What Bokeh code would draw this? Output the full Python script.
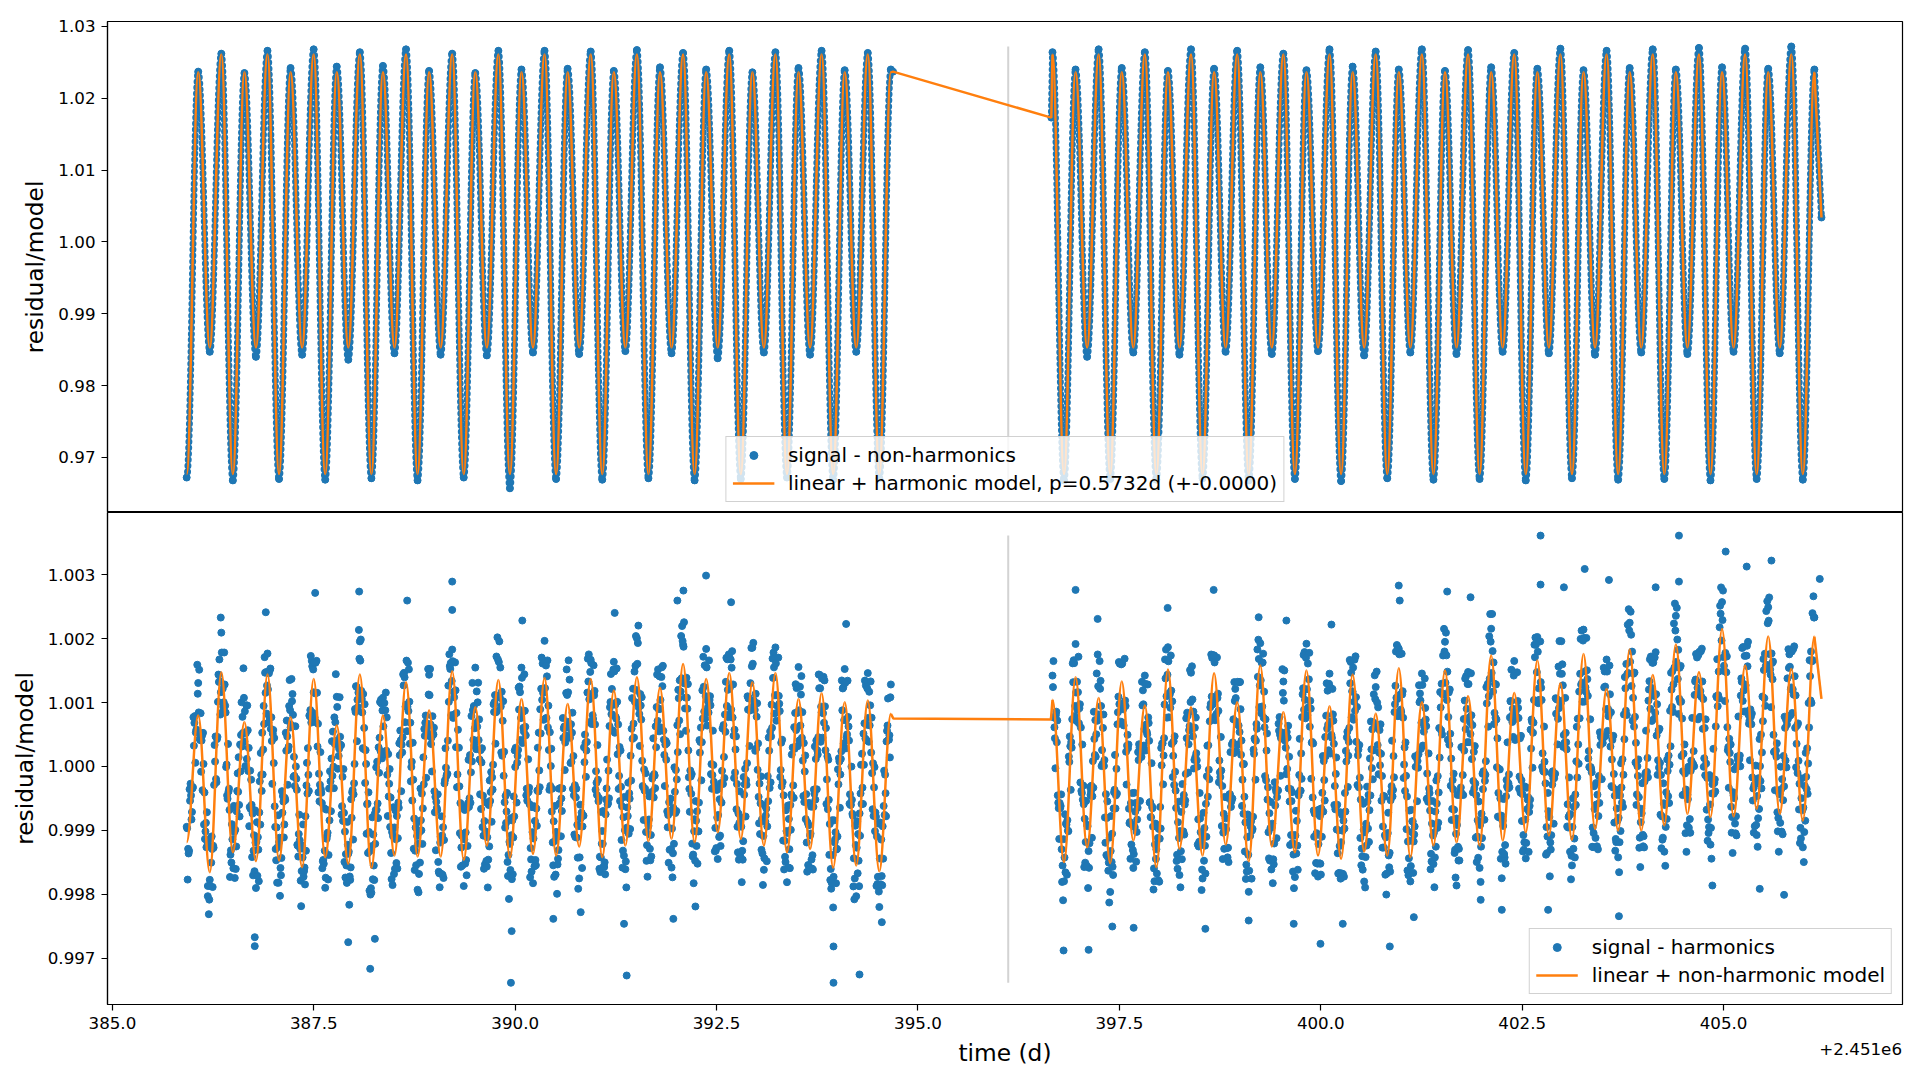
import numpy as np
from bokeh.plotting import figure
from bokeh.layouts import column
from bokeh.models import Range1d, Legend, LegendItem, Div, FixedTicker, NumeralTickFormatter
from bokeh.embed import file_html
from bokeh.resources import INLINE

color_signal = '#1f77b4'
color_model = '#ff7f0e'
color_gap = '#d3d3d3'
font = 'DejaVu Sans'

# ------------------------ data (time in d, minus 2451000)
period_d = 0.5732
first_min_t = 385.922          # first deep minimum, extrema every period/4 after it
gap_mark_t = 396.12
time_offset_text = '+2.451e6'
x_ticks = [385.0, 387.5, 390.0, 392.5, 395.0, 397.5, 400.0, 402.5, 405.0]

# top panel, signal - non-harmonics at the extrema (deep min, max, shallow min, max, ...)
top_sig_1 = [0.9672, 1.0237, 0.9847, 1.0262, 0.9668, 1.0235, 0.9840, 1.0266,
             0.9670, 1.0242, 0.9843, 1.0268, 0.9669, 1.0244, 0.9836, 1.0264,
             0.9671, 1.0245, 0.9845, 1.0268, 0.9668, 1.0238, 0.9843, 1.0262,
             0.9672, 1.0235, 0.9842, 1.0266, 0.9657, 1.0240, 0.9846, 1.0266,
             0.9670, 1.0241, 0.9844, 1.0265, 0.9669, 1.0238, 0.9848, 1.0267,
             0.9671, 1.0243, 0.9845, 1.0263, 0.9668, 1.0240, 0.9838, 1.0266,
             0.9670, 1.0236, 0.9846, 1.0264, 0.9672, 1.0242, 0.9843, 1.0266,
             0.9669, 1.0239, 0.9847, 1.0263, 0.9671, 1.0240]                  # n = 0..61
top_sig_2 = [1.0264,
             0.9668, 1.0240, 0.9840, 1.0268, 0.9670, 1.0242, 0.9846, 1.0264,
             0.9669, 1.0238, 0.9843, 1.0268, 0.9671, 1.0241, 0.9847, 1.0266,
             0.9668, 1.0243, 0.9844, 1.0262, 0.9670, 1.0239, 0.9848, 1.0268,
             0.9667, 1.0244, 0.9842, 1.0265, 0.9671, 1.0240, 0.9846, 1.0268,
             0.9669, 1.0238, 0.9844, 1.0267, 0.9670, 1.0243, 0.9847, 1.0263,
             0.9668, 1.0241, 0.9845, 1.0269, 0.9671, 1.0239, 0.9843, 1.0266,
             0.9669, 1.0242, 0.9846, 1.0268, 0.9670, 1.0240, 0.9844, 1.0270,
             0.9668, 1.0243, 0.9847, 1.0269, 0.9670, 1.0241, 0.9845, 1.0272,
             0.9669, 1.0240]                                                   # n = 75..141
top_model_cycle = [0.9677, 1.0236, 0.9853, 1.0261]
top_end_1 = [394.690, 1.0237]
top_start_2 = [396.655, 1.0173]
top_end_2 = [406.215, 1.0034]

# bottom panel, linear + non-harmonic model at its extrema (ppm from 1)
bot_model_1_ppm = [-1185, 797, -1655, 1476, -1342, 693, -1483, 1439,
                   -1474, 771, -1577, 1371, -1420, 641, -1525, 1439,
                   -1587, 797, -1394, 1319, -1410, 876, -1410, 1491,
                   -1462, 928, -1238, 1356, -1431, 1058, -1368, 1387,
                   -1394, 980, -1253, 1371, -1420, 1189, -1238, 1397,
                   -1170, 1231, -1133, 1606, -1185, 1371, -1029, 1465,
                   -1133, 1319, -1238, 1465, -1342, 1058, -1290, 1147,
                   -1587, 1006, -1551, 1032, -1640, 824]                        # n = 0..61
bot_model_2_ppm = [1043, -1498, 1398, -1264, 1074, -1514, 1330, -1159,
                   954, -1577, 1518, -1290, 928, -1394, 1460, -1222,
                   1006, -1483, 1580, -1253, 850, -1342, 1502, -1394,
                   944, -1446, 1439, -1331, 824, -1394, 1538, -1420,
                   1006, -1238, 1502, -1185, 1100, -1238, 1737, -1159,
                   1152, -1029, 1658, -1081, 1304, -1149, 1763, -977,
                   1215, -1003, 1831, -1003, 1434, -924, 1909, -742,
                   1476, -794, 2154, -784, 1580, -664, 2034, -742,
                   1528, -846, 2034]                                            # n = 75..141
bot_end_1 = [394.695, 750]
bot_start_2 = [396.650, 735]
bot_end_2 = [406.215, 1058]

# bottom panel, signal - harmonics (ppm from 1): four interleaved sample sets, six per quarter period
bot_sig_1_ppm = [-945, -1362, -270, -344, 682, 574, 1307, 413, 484, -909, -882, -1871,
                 -1775, -1095, -1272, 470, 463, 1676, 2096, 937, 952, -453, -348, -1313,
                 -962, -1746, -703, 145, -76, 777, 393, 957, -71, -65, -1419, -1077,
                 -1903, -1107, -233, -382, 949, 1153, 1769, 774, 771, 572, -946, -1819,
                 -1184, -1704, -463, -492, 720, 311, 611, 1134, -146, -193, -1410, -1290,
                 -1237, -1639, -1320, 287, 784, 1653, 1161, 1624, 313, -545, -413, -1463,
                 -1900, -1082, -345, -700, 546, 353, 1091, 166, 340, -162, -1494, -1550,
                 -1365, -1776, -404, -263, 1258, 930, 1959, 1056, 273, 256, -580, -1944,
                 -1977, -1067, -1211, 75, -99, 1047, 1077, 220, 769, -469, -486, -1857,
                 -954, -1512, -566, 562, 221, 1467, 969, 1626, 357, 74, -1288, -957,
                 -1930, -1027, -999, 143, 685, 483, 1436, 353, 515, -717, -649, -1647,
                 -1100, -1696, -265, -149, 1266, 1527, 1831, 1083, 303, 575, -1044, -1084,
                 -1872, -1032, -1245, -497, 791, 418, 1548, 623, 737, -665, -457, -1533,
                 -1568, -604, -400, -361, 1008, 1722, 1106, 1549, 169, 232, -884, -1714,
                 -1211, -1764, -469, 293, 166, 1251, 1548, 605, 622, -535, -332, -1455,
                 -1828, -853, -929, 530, 518, 1612, 1967, 761, 952, -304, -349, -1728,
                 -1024, -1445, -341, -697, 597, 491, 700, 1360, 72, 163, -1105, -913,
                 -1753, -797, -767, 499, 385, 1755, 1671, 804, 1183, -255, -543, -1653,
                 -1010, -1575, -518, -576, 927, 1214, 1639, 776, 192, 305, -1152, -795,
                 -1608, -641, -419, -220, 1218, 1010, 2007, 925, 955, -306, -378, -1478,
                 -930, -1469, -190, -119, 301, 1520, 901, 1553, 420, 399, -952, -1305,
                 -1583, -649, -728, 647, 721, 2043, 1906, 909, 1078, -169, -157, -1408,
                 -825, -1244, -1016, 383, 1192, 860, 1841, 930, 1101, -349, -239, -1318,
                 -1449, -512, -566, 648, 542, 1678, 1715, 891, 1285, -94, -274, -1459,
                 -803, -1459, -280, -287, 1066, 1305, 1859, 978, 280, 361, -1058, -827,
                 -1618, -767, -152, -336, 969, 1784, 1865, 947, 983, 372, -1160, -1414,
                 -1812, -821, -992, 298, 278, 1227, 1558, 641, 851, -556, -433, -1543,
                 -1080, -1597, -361, 118, 188, 1434, 847, 1404, 254, 160, -1384, -1914,
                 -2207, -1143, -1289, 129, 118, 1222, 1526, 455, 627, -603, -742, -2080,
                 -2031, -1058, -1085, 200, 26, 1269, 1462, 643, 764, -774, -722, -1841,
                 -2200, -1145, -1444, -128, 558, 419, 1284]
bot_sig_1b_ppm = [-1771, -356, -830, 772, 58, 1593, 1515, -81, 527, -1135, -717, -2313,
                  -1122, -1888, 337, -246, 1439, 813, 848, 1785, -9, 353, -1730, -904,
                  -617, -1605, -107, -782, 1006, 1538, 6, 955, -934, -206, -1705, -686,
                  -873, -1796, 211, -125, 1712, 829, 689, 1534, -272, 447, -1469, -764,
                  -2026, -386, -1111, 528, -287, 1353, 1371, -162, 630, -1226, -754, -2187,
                  -907, -1847, 57, -383, 1731, 841, 764, 1654, -404, 225, -1593, -653,
                  -675, -1769, -75, 396, -340, 1446, -36, 1085, -753, -41, -1739, -868,
                  -2165, -512, -1145, 899, 396, 2139, 1988, 287, 976, -1054, -405, -2006,
                  -796, -1779, -13, -808, 1009, 126, 190, 1157, -776, -41, -1764, -637,
                  -688, -1598, 363, -387, 1443, 693, 553, 1521, -233, 372, -1622, -884,
                  -1971, -346, -1212, 588, -178, 1527, 1527, -78, 608, -1312, -436, -1891,
                  -781, -1746, 286, -115, 1757, 802, 761, 1630, -325, 294, -1570, -632,
                  -681, -1703, 105, -569, 1309, 328, 271, 1312, -436, 286, -1602, -561,
                  -1894, -219, -866, 974, 357, 2022, 1959, 219, 1022, -957, -414, -2074,
                  -809, -1688, 252, -565, 1235, 416, 367, 1444, -452, 112, -1734, -637,
                  -621, -1546, 294, -325, 1705, 730, 750, 1661, -365, 278, -1548, -617,
                  -1994, -347, -1093, 759, -57, 1520, 1662, 54, 842, -1065, -347, -1915,
                  -598, -1590, 300, -162, 1688, 696, 664, 1584, -364, 335, -1603, -713,
                  -696, -1689, 108, -499, 1448, 565, 528, 1535, -351, 252, -1584, -477,
                  -1893, -253, -980, 1070, 452, 2042, 1933, 322, 1085, -838, -105, -1726,
                  -469, -1409, 441, -340, 1440, 550, 611, 1576, -306, 364, -1508, -503,
                  -1736, -13, -697, 1200, 506, 2199, 2259, 559, 1291, -710, -118, -1828,
                  -542, -1522, 413, -217, 1718, 748, 640, 1661, -119, 561, -1329, -368,
                  -347, -1245, 596, -180, 1701, 773, 821, 1806, -179, 471, -1344, -389,
                  -1811, -165, -783, 1099, 321, 1857, 1936, 246, 990, -889, -155, -1855,
                  -612, -1483, 455, -248, 1690, 829, 717, 1705, -166, 419, -1612, -684,
                  -611, -1592, 188, -492, 1288, 317, 408, 1415, -463, 171, -1647, -570,
                  -629, -1614, 314, -357, 1441, 386, 451, 1348, -587, 107, -1778, -841,
                  -843, -1828, -45, -646, 1347, 362, 283, 1343, -583, -2, -1878, -927,
                  -857, -1874, 27, -586, 1345, 408, 387, 1332, -669, -9, -1870, -895,
                  -878, -1860, -66, -780, 1064, 142]
bot_sig_1c_ppm = [-967, -1321, -453, -325, 789, 572, 847, 834, -371, -408, -1264, -1232,
                  -1872, -1293, -288, -196, 1012, 1337, 1785, 1006, 845, -506, -680, -1505,
                  -1594, -992, -383, -602, 494, 526, 864, 119, 291, -666, -737, -1640,
                  -1181, -1302, -910, 528, 666, 1478, 1207, 1509, 399, 53, -1293, -1263,
                  -1115, -1433, -550, -526, 471, 946, 652, 809, -305, -366, -1057, -1788,
                  -1425, -1583, -296, -131, 883, 1569, 1630, 694, 669, -286, -573, -1524,
                  -1742, -1038, -843, 124, -3, 693, 932, 278, 332, -853, -1020, -1823,
                  -1333, -1580, -369, 40, 1248, 1156, 1657, 847, 604, 39, -1354, -1322,
                  -1247, -1551, -680, -580, 450, 986, 628, 881, -130, -271, -1355, -1091,
                  -1603, -775, -646, 409, 457, 1396, 1658, 868, 686, -533, -815, -1546,
                  -1211, -1505, -424, -278, 798, 669, 1117, 451, 500, -476, -682, -1673,
                  -1678, -951, -214, -121, 1012, 1621, 1649, 817, 839, -317, -573, -1550,
                  -1142, -1466, -573, 178, 80, 947, 679, 1005, 109, 64, -1083, -1016,
                  -1108, -1251, -86, 28, 1118, 867, 1635, 939, 715, -559, -705, -1385,
                  -1621, -845, -782, 255, 260, 1163, 1388, 548, 488, -413, -592, -1646,
                  -1127, -1464, -377, -61, 1217, 1152, 1226, 1411, 258, 6, -1189, -1168,
                  -1105, -1309, -340, -343, 625, 1150, 1161, 450, 530, -452, -485, -1428,
                  -1423, -723, -772, 370, 1157, 1051, 1620, 744, 659, -446, -493, -1424,
                  -1210, -1501, -344, -66, 1008, 810, 1489, 749, 659, -542, -622, -1396,
                  -1487, -777, -504, 591, 671, 1577, 1607, 823, 734, -323, -347, -1232,
                  -830, -1073, -148, -143, 930, 900, 1042, 1258, 181, 105, -760, -693,
                  -972, -1211, -57, 225, 1349, 1382, 1875, 1079, 904, -351, -428, -1379,
                  -1475, -702, -565, 609, 750, 1584, 1551, 844, 959, -135, -299, -1278,
                  -759, -1082, -68, 150, 1326, 1200, 1225, 1547, 482, 267, -944, -884,
                  -943, -1170, -35, 52, 1078, 916, 1609, 886, 779, -476, -577, -1361,
                  -1437, -660, -543, 549, 605, 1552, 1614, 846, 868, -311, -452, -1495,
                  -1042, -1295, -440, -296, 838, 837, 879, 1126, 92, -79, -1190, -921,
                  -1050, -1389, -427, 407, 459, 1224, 1376, 685, 602, -668, -901, -1823,
                  -1727, -1030, -1096, 78, 238, 1237, 1306, 503, 406, -599, -770, -1754,
                  -1271, -1475, -423, -332, 676, 654, 761, 957, -104, -328, -786, -1728,
                  -1440, -1716, -619, -418, 641, 490]
bot_sig_1d_ppm = [-1290, -537, -713, 325, 533, 1139, 434, 406, 40, -1017, -1182, -2085,
                  -1506, -1241, 77, 429, 1324, 1163, 1219, 1284, 30, -391, -1382, -1141,
                  -1025, -1253, -397, 344, 313, 1075, 520, 567, -634, -601, -1319, -1194,
                  -1712, -720, -132, 266, 1468, 1267, 1458, 588, 512, -624, -954, -1822,
                  -1589, -724, -907, 247, 260, 882, 1022, 151, 0, -1241, -1155, -1638,
                  -1725, -779, -425, 800, 687, 1519, 1145, 1154, -113, -358, -1483, -1319,
                  -1132, -1386, -233, -146, 769, 403, 369, 466, -621, -726, -1372, -1226,
                  -1722, -804, -436, 853, 1044, 1687, 1184, 1136, -257, -592, -1025, -1905,
                  -1766, -740, -680, 300, 241, 877, 994, 248, 194, -947, -1028, -1685,
                  -1141, -1122, 176, 341, 1270, 938, 935, 1014, -8, -207, -1319, -1089,
                  -1683, -842, -656, 480, 561, 1127, 659, 788, -388, -554, -1495, -1191,
                  -1080, -1151, -18, 405, 1572, 1339, 1169, 1192, -124, -310, -1268, -1090,
                  -1521, -654, -632, -91, 882, 598, 1176, 413, 256, -949, -855, -1479,
                  -1459, -540, -170, 855, 849, 1676, 1080, 1170, -146, -460, -1494, -1180,
                  -1076, -1113, -8, 59, 892, 758, 856, 872, -347, -398, -1278, -1028,
                  -1563, -658, -390, 896, 1043, 1626, 1581, 612, 537, -705, -858, -1693,
                  -1534, -579, -501, 446, 375, 1120, 605, 662, -351, -293, -1113, -934,
                  -813, -939, 68, 250, 1331, 1481, 1105, 1114, -73, -208, -1413, -1209,
                  -1561, -749, -595, 633, 820, 1519, 967, 1013, -147, -318, -1318, -998,
                  -958, -1052, 168, 433, 1486, 1196, 999, 1134, 90, -47, -1026, -880,
                  -1289, -399, -486, 629, 714, 1411, 1401, 558, 343, -703, -560, -1294,
                  -1359, -396, -202, 1070, 1174, 1965, 1300, 1389, 252, -63, -1208, -1014,
                  -848, -1014, 217, 381, 1248, 1101, 1030, 1041, 37, 23, -962, -799,
                  -1104, -260, -274, 814, 948, 1755, 1676, 766, 575, -670, -735, -1403,
                  -1320, -442, -216, 891, 876, 1569, 1032, 1138, -53, -268, -1305, -1088,
                  -865, -938, 248, 470, 1387, 1114, 1118, 1105, -56, -245, -1163, -1011,
                  -1581, -602, -478, 616, 571, 1258, 1249, 448, 367, -824, -878, -1591,
                  -1457, -632, -520, 254, 1226, 937, 833, 941, -202, -522, -1605, -1386,
                  -1188, -1299, -279, -125, 879, 726, 729, 775, -436, -521, -1438, -1231,
                  -1673, -735, -587, 514, 436, 1222, 1170, 218, 50, -1014, -1095, -1959,
                  -1846, -937, -758, 393, 420, 1084]
bot_sig_2_ppm = [1423, 613, 858, -568, -653, -1808, -1798, -894, -1004, 470, 294, 1664,
                 1918, 890, 913, -383, -299, -1506, -914, -1587, -390, 85, 180, 1457,
                 814, 1341, 37, 100, -1387, -1631, -1964, -1053, -403, -452, 849, 1609,
                 1630, 643, 948, 496, -887, -1222, -1589, -707, -831, 348, 166, 1192,
                 1424, 544, 681, -792, -654, -1797, -1297, -1780, -633, 360, 444, 1831,
                 1868, 1130, 356, 394, -378, -1602, -1700, -711, -1016, -531, 843, 569,
                 1468, 472, 608, 97, -1253, -1028, -1754, -963, -1101, 333, 927, 1699,
                 1740, 810, 1140, -91, -932, -742, -812, -1423, -435, -549, 739, 1215,
                 696, 1319, 184, 31, -1331, -1646, -1963, -938, -977, 439, 664, 1985,
                 1930, 940, 1172, -216, -325, -1473, -953, -1532, -347, -372, 774, 449,
                 1330, 473, -38, 154, -1074, -1645, -1732, -851, -451, -380, 1131, 1791,
                 1922, 928, 1028, 384, -1100, -1510, -1724, -777, -1100, 85, 160, 1187,
                 1454, 494, 717, -671, -599, -1666, -1186, -1683, -415, 456, 388, 1636,
                 1169, 1673, 387, 264, -1119, -1405, -1801, -897, -972, 126, -25, 1130,
                 1244, 335, 570, -535, -460, -1695, -1064, -1578, -401, -368, 975, 1902,
                 1838, 890, 1179, 299, -981, -1702, -1800, -857, -1064, 143, -20, 1143,
                 1456, 546, 735, -496, -417, -1488, -1528, -704, -963, 602, 567, 1738,
                 1952, 1042, 1160, -301, -213, -1355, -815, -1472, -394, 307, 249, 1417,
                 1480, 693, 116, 231, -1114, -841, -1588, -739, -74, -130, 1253, 2038,
                 2157, 1173, 1293, -11, -35, -1445, -849, -1424, -211, -264, 1024, 697,
                 1652, 746, 917, 442, -854, -1303, -1439, -519, -617, 735, 686, 2018,
                 2028, 1044, 1233, -61, -86, -1357, -781, -1301, -75, -118, 1058, 1564,
                 1024, 1600, 361, 378, -956, -1335, -1549, -634, -601, 747, 755, 2128,
                 2143, 1239, 1368, -7, -42, -1263, -647, -1250, -149, 469, 367, 1488,
                 1675, 786, 311, 416, -879, -1184, -1423, -453, -565, 814, 873, 2221,
                 2251, 1261, 1453, 64, 5, -1273, -663, -1250, -134, -85, 1205, 1721,
                 1134, 1706, 484, 565, -755, -1146, -1334, -404, -466, 873, 931, 2239,
                 2359, 1371, 1546, 164, 201, -1044, -442, -1033, 92, 37, 1332, 1707,
                 1206, 1804, 589, 601, -677, -1042, -1224, -277, -257, 1100, 1117, 2517,
                 2574, 1577, 1719, 255, 210, -1037, -454, -1046, 157, 118, 1379, 1872,
                 1280, 1890, 669, 778, -533, -934, -1074, -183, -229, 1095, 1070, 2433,
                 2494, 1518, 1620, 226, 252, -1016, -432, -1020, 165, 93, 1380, 1756,
                 1238, 1839, 605, 641, -673, -1127, -1266, -303, -356, 994, 1034, 2401,
                 2334]
bot_sig_2b_ppm = [1650, -28, 720, -1135, -437, -2095, -749, -1695, 156, -366, 1615, 789,
                  713, 1719, -250, 344, -1575, -539, -1904, -323, -1117, 857, 153, 1754,
                  1650, 6, 814, -1194, -546, -2130, -776, -1699, 181, -425, 1635, 702,
                  688, 1687, -283, 344, -1446, -417, -413, -1491, 225, -540, 1326, 328,
                  251, 1284, -565, 52, -1927, -894, -924, -1805, 291, -280, 1676, 765,
                  770, 1738, -164, 472, -1480, -552, -1892, -276, -1067, 755, -96, 1510,
                  1569, -31, 767, -1223, -415, -1935, -725, -1677, 325, -199, 1753, 762,
                  724, 1708, -245, 463, -1450, -476, -484, -1497, 225, -501, 1321, 248,
                  344, 1323, -617, 40, -1760, -751, -781, -1756, 263, -206, 1833, 928,
                  832, 1766, -151, 518, -1439, -555, -1827, -246, -1123, 670, -147, 1524,
                  1503, -120, 637, -1229, -402, -1905, -694, -1617, 433, -193, 1747, 754,
                  803, 1779, -192, 360, -1671, -735, -674, -1693, 163, -533, 1303, 254,
                  203, 1215, -603, 141, -1677, -715, -757, -1725, 244, -321, 1668, 770,
                  732, 1725, -289, 337, -1547, -584, -1894, -316, -1181, 705, -201, 1427,
                  1486, -120, 661, -1271, -470, -2006, -724, -1646, 404, -170, 1800, 788,
                  798, 1766, -179, 377, -1628, -690, -679, -1666, 160, -544, 1272, 275,
                  328, 1378, -507, 205, -1610, -540, -1891, -218, -881, 1165, 502, 2155,
                  2096, 420, 1205, -838, -113, -1739, -446, -1471, 303, -448, 1376, 381,
                  380, 1459, -407, 319, -1497, -548, -1807, -114, -834, 1243, 623, 2386,
                  2388, 664, 1283, -785, -46, -1750, -510, -1522, 378, -325, 1515, 463,
                  415, 1474, -347, 480, -1331, -312, -333, -1337, 578, -19, 1906, 1012,
                  991, 1958, -8, 625, -1381, -414, -1720, -113, -896, 1069, 346, 1963,
                  1962, 306, 1074, -939, -171, -1767, -499, -1424, 621, 43, 1998, 1013,
                  1016, 2013, 126, 739, -1257, -310, -260, -1297, 536, -198, 1545, 478,
                  557, 1581, -308, 480, -1319, -365, -1655, 51, -632, 1400, 807, 2463,
                  2423, 717, 1470, -602, 111, -1575, -262, -1267, 561, -170, 1678, 713,
                  744, 1790, -131, 591, -1280, -264, -1556, 110, -573, 1468, 855, 2551,
                  2484, 822, 1575, -448, 345, -1337, -4, -1038, 761, 3, 1762, 738,
                  777, 1845, -6, 738, -1163, -135, -1444, 276, -390, 1680, 1064, 2804,
                  2754, 1025, 1724, -334, 345, -1354, -44, -1079, 783, 3, 1855, 860,
                  862, 1952, 97, 829, -1036, 14, -1258, 430, -343, 1683, 950, 2588,
                  2647, 929, 1644, -372, 363, -1335, -3, -1061, 780, -14, 1837, 799,
                  838, 1881, -13, 675, -1199, -186, -1497, 214, -428, 1665, 994, 2665]
bot_sig_2c_ppm = [1243, 441, 378, -653, -620, -1551, -1426, -910, -1013, 318, 740, 1618,
                  1157, 1164, 975, -416, -592, -1183, -935, -1203, -302, -333, 726, 715,
                  804, 947, 604, -798, -807, -1506, -1323, -1571, -365, -37, 1093, 982,
                  1610, 954, 231, 284, -871, -914, -1371, -571, -646, 295, 150, 974,
                  1294, 503, 402, -796, -941, -1221, -1675, -978, -971, 362, 971, 1100,
                  1647, 919, 1020, -289, -650, -873, -1011, -1452, -445, -117, 793, 634,
                  589, 859, 150, -4, -1179, -1176, -1083, -1240, -152, -51, 981, 971,
                  1629, 824, 871, -165, -306, -1290, -983, -1273, -434, 347, 209, 1071,
                  1326, 540, 407, -740, -875, -1108, -1631, -858, -787, 418, 590, 1684,
                  1349, 1628, 615, 249, -1028, -965, -895, -1206, -393, -375, 498, 530,
                  1031, 294, 453, -548, -542, -1379, -1081, -1239, -133, 205, 1225, 1044,
                  1210, 1364, 907, -484, -736, -1044, -1215, -1523, -412, -213, 796, 655,
                  1244, 448, 355, -116, -1358, -1245, -1674, -849, -705, 544, 604, 1469,
                  1548, 874, 933, -326, -518, -1616, -1032, -1239, -445, -453, 582, 682,
                  615, 926, 19, -149, -1269, -1110, -1042, -1352, -308, 163, 1263, 1056,
                  1756, 853, 764, -383, -470, -1438, -1560, -860, -940, 141, 191, 1034,
                  1277, 615, 632, -552, -689, -893, -1037, -1256, -151, 140, 1295, 1138,
                  1311, 1485, 342, 124, -358, -1303, -916, -1290, -329, -134, 1032, 903,
                  1291, 509, 648, -341, -450, -1429, -916, -1122, -99, 83, 1294, 1374,
                  1465, 1629, 762, 441, -801, -769, -930, -1231, -315, -123, 1019, 904,
                  1473, 777, 758, -410, -432, -1186, -1198, -482, -519, 699, 1041, 1906,
                  1797, 1016, 1042, -80, -264, -1097, -791, -1075, -184, -113, 1047, 913,
                  994, 1271, 376, 268, -788, -746, -947, -1129, 81, 346, 1452, 1312,
                  2012, 1171, 1106, -15, -90, -1043, -1118, -441, -570, 451, 445, 1252,
                  1486, 827, 850, -328, -458, -659, -802, -1011, 113, 428, 1606, 1463,
                  1640, 1799, 625, 370, -148, -1115, -733, -1092, -100, 134, 1336, 1231,
                  1625, 841, 975, -18, -132, -1114, -603, -822, 171, 317, 1494, 1551,
                  1638, 1826, 1010, 751, -433, -361, -513, -824, 73, 241, 1361, 1232,
                  1797, 1092, 1055, -137, -179, -948, -962, -220, -203, 1082, 1486, 2392,
                  2292, 1491, 1476, 304, 72, -792, -495, -781, 106, 172, 1327, 1190,
                  1271, 1569, 717, 662, -344, -269, -463, -666, 500, 710, 1765, 1591,
                  2283, 1438, 1366, 236, 152, -806, -883, -198, -311, 731, 743, 1562,
                  1799, 1123, 1114, -103, -271, -496, -644, -849, 284, 611, 1800, 1664]
bot_sig_2d_ppm = [766, 805, -452, -573, -1296, -1138, -1658, -840, 72, 383, 1320, 946,
                  1327, 676, 610, -521, -820, -1553, -1325, -446, -467, 432, 503, 1255,
                  1216, 257, 8, -434, -1417, -1114, -1496, -657, -657, 661, 977, 1599,
                  895, 1032, 327, -660, -573, -1309, -949, -1025, 100, 251, 956, 586,
                  658, 768, -557, -625, -1596, -1447, -1119, -1130, 19, 172, 1379, 1436,
                  1151, 1188, 167, -82, -1381, -1119, -1326, -525, -595, 443, 350, 1009,
                  1050, 103, 208, -827, -815, -1615, -1476, -585, -473, 708, 1096, 1739,
                  1048, 1074, 93, -63, -1036, -951, -1277, -495, -633, 378, 1027, 667,
                  641, 898, -207, -474, -1537, -1383, -1087, -1003, 199, 404, 1404, 1268,
                  1622, 765, 738, -518, -731, -1612, -1453, -611, -478, 560, 443, 1152,
                  407, 540, -344, -355, -1196, -1073, -1364, -425, -375, 773, 889, 1701,
                  1612, 624, 372, -689, -716, -1522, -1515, -656, -707, 462, 593, 1295,
                  703, 816, -306, -987, -1000, -1756, -1006, -971, 79, 168, 1302, 1177,
                  1014, 1086, 174, -175, -1286, -990, -1419, -549, -684, 268, 252, 1055,
                  1000, 219, 199, -939, -1076, -1675, -1393, -529, -469, 852, 1076, 1856,
                  1126, 1128, 31, -146, -1175, -1158, -1028, -1174, -5, 86, 1006, 686,
                  691, 916, -110, -345, -1367, -1079, -1424, -581, -406, 925, 1130, 1801,
                  1740, 775, 513, -665, -678, -1054, -1258, -447, -421, 744, 585, 1291,
                  771, 802, -227, -266, -1097, -889, -1255, -355, -224, 988, 1101, 1955,
                  1807, 839, 737, -414, -501, -1337, -1371, -466, -344, 768, 794, 1423,
                  859, 1025, -157, -215, -1074, -830, -667, -712, 280, 528, 1711, 1477,
                  1224, 1321, 207, 75, -949, -700, -1190, -284, -184, 827, 747, 1454,
                  1451, 493, 527, -591, -756, -1399, -1288, -438, -172, 1173, 1283, 1971,
                  1489, 1506, 241, -10, -955, -666, -594, -777, 337, 368, 1239, 896,
                  901, 1130, 110, -118, -1135, -844, -1185, -328, -130, 1225, 1449, 2130,
                  2063, 1076, 778, -437, -481, -872, -1070, -235, -173, 1031, 903, 1624,
                  1104, 1132, 98, 55, -781, -575, -946, -69, 28, 1204, 1287, 2128,
                  1988, 1059, 1016, -73, -109, -921, -958, -67, 33, 1121, 1128, 1747,
                  1180, 1331, 129, 47, -830, -595, -422, -426, 628, 943, 2180, 1972,
                  1712, 1778, 616, 434, -631, -402, -894, 9, 104, 1110, 1027, 1731,
                  1735, 810, 894, -171, -293, -915, -811, 5, 220, 1510, 1576, 2243,
                  1759, 1770, 496, 236, -716, -431, -356, -527, 605, 657, 1544, 1209,
                  1208, 1413, 355, 88, -961, -686, -1027, -162, 47, 1414, 1647, 2332]
# scattered outliers of the bottom panel
bot_out_t = [387.517, 388.063, 389.218, 389.218, 388.659, 390.088, 386.904, 386.345,
             388.200, 389.947, 386.767, 386.767, 386.184, 389.956, 387.927, 388.258, 390.473, 390.813,
             392.369, 391.235, 392.088, 392.013, 392.680, 391.529, 394.108,
             391.384, 393.951, 394.274, 393.951, 391.351, 392.237, 391.963, 394.551,
             396.956, 398.670, 400.968, 400.980, 398.099, 397.230, 399.229, 399.573, 400.132,
             396.807, 397.118, 399.996, 400.857, 397.677, 397.412, 398.567, 399.105, 399.664, 400.273, 401.155,
             402.728, 404.446, 402.728, 405.026, 405.594, 403.276, 403.577, 404.446, 405.287, 406.194,
             401.569, 401.859, 403.018, 404.157,
             403.701, 402.247, 402.822, 401.985, 405.449, 405.751, 401.685, 404.861]
bot_out_ppm = [2718, 2739, 2895, 2452, 2598, 2285, 2415, 2332,
               -3168, -3387, -2673, -2813, -2031, -2578, -2751, -2699, -2386, -2281,
               2989, 2405, 2754, 2598, 2572, 2206, 2232,
               -3273, -3387, -3257, -2818, -2464, -2192, -2386, -2438,
               2765, 2765, 2833, 2598, 2483, 2311, 2337, 2285, 2222,
               -2881, -2871, -2777, -2818, -2526, -2506, -2542, -2412, -2464, -2464, -2359,
               3615, 3615, 2848, 3365, 3224, 3093, 2921, 2895, 3130, 2937,
               2739, 2650, 2806, 2806,
               -2344, -2245, -2245, -2088, -1916, -2010, -1864, -1864]


quarter = period_d / 4


def ext_t(n0, count, per=1, shift=0.0):
    # times of the extrema (or of the samples between them)
    return first_min_t + (n0 + (np.arange(count) + shift) / per) * quarter


def bez(t, y):
    # smooth half waves between consecutive extrema, flat at each extremum
    t = np.asarray(t, dtype=float)
    y = np.asarray(y, dtype=float)
    h = 0.3634 * np.diff(t)
    return dict(x0=t[:-1], y0=y[:-1], x1=t[1:], y1=y[1:],
                cx0=t[:-1] + h, cy0=y[:-1], cx1=t[1:] - h, cy1=y[1:])


def ppm(v):
    return 1 + np.asarray(v, dtype=float) * 1e-6


def My_Style(p, yticks, yfmt):
    ############################################################
    p.grid.visible = False
    p.background_fill_color = 'white'
    p.border_fill_color = 'white'
    p.outline_line_color = 'black'
    p.outline_line_width = 1.2
    p.axis.axis_line_color = 'black'
    p.axis.axis_line_width = 1.2
    p.axis.major_tick_line_color = 'black'
    p.axis.major_tick_line_width = 1.2
    p.axis.major_tick_in = 0
    p.axis.major_tick_out = 6
    p.axis.minor_tick_line_color = None
    p.axis.major_label_text_font = font
    p.axis.major_label_text_font_size = '16.7px'
    p.axis.major_label_text_color = 'black'
    p.axis.major_label_standoff = 6
    p.axis.axis_label_text_font = font
    p.axis.axis_label_text_font_size = '23.3px'
    p.axis.axis_label_text_font_style = 'normal'
    p.axis.axis_label_text_color = 'black'
    p.axis.axis_label_standoff = 7
    p.yaxis.ticker = FixedTicker(ticks=yticks)
    p.yaxis.formatter = NumeralTickFormatter(format=yfmt)
    p.yaxis.axis_label = 'residual/model'
    ############################################################
    return p


def My_Legend(p, items, location):
    leg = Legend(items=items, location=location)
    leg.label_text_font = font
    leg.label_text_font_size = '20px'
    leg.label_text_color = 'black'
    leg.glyph_width = 42
    leg.glyph_height = 20
    leg.label_height = 20
    leg.label_standoff = 14
    leg.padding = 6
    leg.spacing = 4
    leg.margin = 10
    leg.border_line_color = '#cccccc'
    leg.border_line_alpha = 0.9
    leg.background_fill_alpha = 0.8
    p.add_layout(leg)


x_range = Range1d(384.939, 407.221)
model_w = 2.5

# ------------------------ top panel
t1 = ext_t(0, len(top_sig_1))
t2 = ext_t(75, len(top_sig_2))
m1 = np.array([top_model_cycle[n % 4] for n in range(0, len(top_sig_1))])
m2 = np.array([top_model_cycle[n % 4] for n in range(75, 75 + len(top_sig_2))])
top_all_y = np.r_[top_sig_1, top_end_1[1], top_start_2[1], top_sig_2, top_end_2[1]]
top_all_t = np.r_[t1, top_end_1[0], top_start_2[0], t2, top_end_2[0]]

p1 = figure(frame_width=1795, frame_height=491, x_range=x_range, y_range=Range1d(0.96233, 1.03068),
            output_backend='svg', toolbar_location=None,
            min_border_left=107, min_border_right=12, min_border_top=21, min_border_bottom=0)
p1.segment(x0=[gap_mark_t], y0=[top_all_y.min()], x1=[gap_mark_t], y1=[top_all_y.max()],
           line_color=color_gap, line_width=2)
band = dict(line_color=color_signal, line_width=7, line_dash='0 6', line_cap='round')
p1.bezier(**bez(t1, top_sig_1), **band)
p1.bezier(**bez(t2, top_sig_2), **band)
p1.multi_line(xs=[[t1[-1], top_end_1[0]], [top_start_2[0], t2[0]], [t2[-1], top_end_2[0]]],
              ys=[[top_sig_1[-1], top_end_1[1]], [top_start_2[1], top_sig_2[0]], [top_sig_2[-1], top_end_2[1]]],
              **band)
sig_top = p1.scatter(top_all_t, top_all_y, size=7, color=color_signal)
p1.bezier(**bez(t1, m1), line_color=color_model, line_width=model_w)
p1.bezier(**bez(t2, m2), line_color=color_model, line_width=model_w)
mod_top = p1.line([t1[-1], top_end_1[0], top_start_2[0], t2[0]], [m1[-1], top_end_1[1], top_start_2[1], m2[0]],
                  line_color=color_model, line_width=model_w)
p1.line([t2[-1], top_end_2[0]], [m2[-1], top_end_2[1]], line_color=color_model, line_width=model_w)
p1 = My_Style(p1, [0.97, 0.98, 0.99, 1.00, 1.01, 1.02, 1.03], '0.00')
p1.xaxis.visible = False
My_Legend(p1, [LegendItem(label='signal - non-harmonics', renderers=[sig_top]),
               LegendItem(label='linear + harmonic model, p=%.4fd (+-0.0000)' % period_d, renderers=[mod_top])],
          'bottom_center')

# ------------------------ bottom panel
b1 = ext_t(0, len(bot_model_1_ppm))
b2 = ext_t(75, len(bot_model_2_ppm))
bm1 = ppm(bot_model_1_ppm)
bm2 = ppm(bot_model_2_ppm)
bs_t = np.r_[ext_t(0, len(bot_sig_1_ppm), 6), ext_t(0, len(bot_sig_1b_ppm), 6, 0.5),
             ext_t(0, len(bot_sig_1c_ppm), 6, 0.25), ext_t(0, len(bot_sig_1d_ppm), 6, 0.75),
             ext_t(75, len(bot_sig_2_ppm), 6), ext_t(75, len(bot_sig_2b_ppm), 6, 0.5),
             ext_t(75, len(bot_sig_2c_ppm), 6, 0.25), ext_t(75, len(bot_sig_2d_ppm), 6, 0.75),
             bot_out_t]
bs_y = ppm(np.r_[bot_sig_1_ppm, bot_sig_1b_ppm, bot_sig_1c_ppm, bot_sig_1d_ppm,
                 bot_sig_2_ppm, bot_sig_2b_ppm, bot_sig_2c_ppm, bot_sig_2d_ppm, bot_out_ppm])

p2 = figure(frame_width=1795, frame_height=492, x_range=x_range, y_range=Range1d(0.996273, 1.003977),
            output_backend='svg', toolbar_location=None,
            min_border_left=107, min_border_right=12, min_border_top=0, min_border_bottom=64)
p2.segment(x0=[gap_mark_t], y0=[bs_y.min()], x1=[gap_mark_t], y1=[bs_y.max()],
           line_color=color_gap, line_width=2)
sig_bot = p2.scatter(bs_t, bs_y, size=7, color=color_signal)
p2.bezier(**bez(b1, bm1), line_color=color_model, line_width=model_w)
p2.bezier(**bez(b2, bm2), line_color=color_model, line_width=model_w)
mod_bot = p2.line([b1[-1], bot_end_1[0], bot_start_2[0], b2[0]],
                  ppm([bot_model_1_ppm[-1], bot_end_1[1], bot_start_2[1], bot_model_2_ppm[0]]),
                  line_color=color_model, line_width=model_w)
p2.line([b2[-1], bot_end_2[0]], ppm([bot_model_2_ppm[-1], bot_end_2[1]]), line_color=color_model,
        line_width=model_w)
p2 = My_Style(p2, [0.997, 0.998, 0.999, 1.000, 1.001, 1.002, 1.003], '0.000')
p2.xaxis.ticker = FixedTicker(ticks=x_ticks)
p2.xaxis.formatter = NumeralTickFormatter(format='0.0')
p2.xaxis.axis_label = 'time (d)'
My_Legend(p2, [LegendItem(label='signal - harmonics', renderers=[sig_bot]),
               LegendItem(label='linear + non-harmonic model', renderers=[mod_bot])],
          'bottom_right')

# offset text of the time axis, right aligned under the frame, on the line of the axis label
offset_div = Div(text=time_offset_text, width=1902, height=22, margin=(-30, 0, 0, 0),
                 styles={'text-align': 'right', 'font-family': font, 'font-size': '16.7px',
                         'color': 'black', 'line-height': '22px'})

layout = column(p1, p2, offset_div, spacing=0)
open("out.html", "w").write(file_html(layout, INLINE))
